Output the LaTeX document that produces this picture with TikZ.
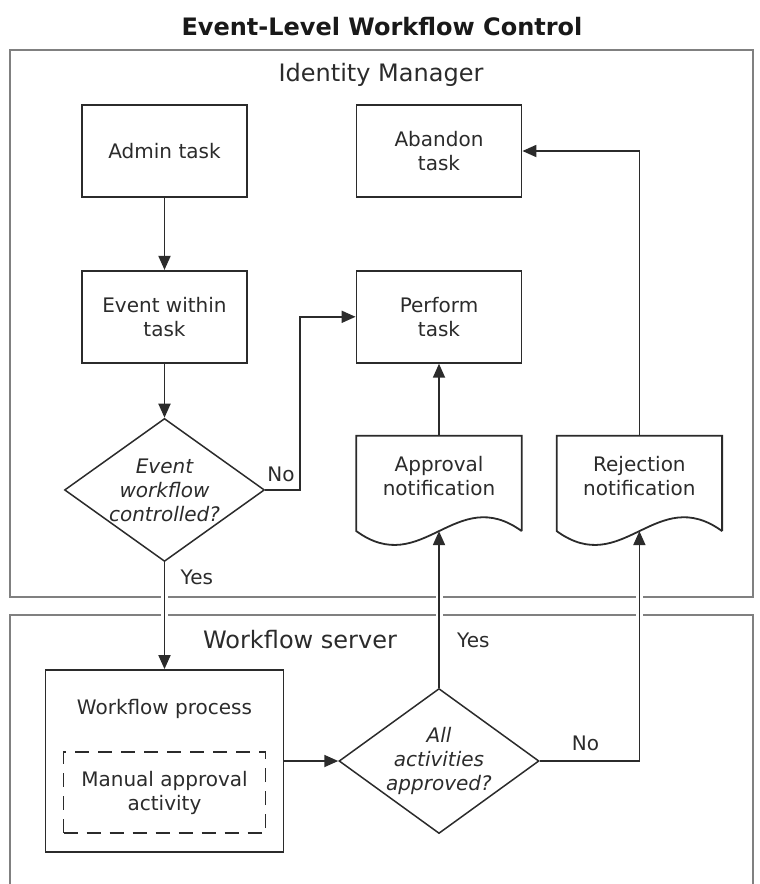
\documentclass[tikz,border=0pt]{standalone}
\usepackage{fontspec}
\setmainfont{DejaVu Sans}
\usepackage{xcolor}
\usetikzlibrary{shapes,arrows,arrows.meta,positioning}
\definecolor{ink}{HTML}{2B2B2B}
\definecolor{frame}{HTML}{808080}

\begin{document}
\begin{tikzpicture}[
    x=1pt, y=-1pt,
    font=\fontsize{20}{24}\selectfont,
    task/.style={rectangle, draw=ink, line width=1.8pt, text=ink, minimum width=165pt, minimum height=92pt, align=center},
    decision/.style={diamond, draw=ink, line width=1.5pt, text=ink, aspect=1.4, inner xsep=-9pt, inner ysep=0pt, align=center, minimum width=200pt, minimum height=143pt, font=\fontsize{20}{24}\selectfont\itshape},
    doc/.style={rectangle, minimum width=165pt, minimum height=95pt, text depth=15pt, align=center, text=ink},
    docline/.style={draw=ink, line width=1.8pt},
    lane/.style={draw=frame, line width=2.4pt},
    gap/.style={draw=white, line width=7pt},
    arrow/.style={-{Triangle[length=14pt,width=12pt]}, draw=ink, line width=1.8pt},
    tag/.style={text=ink, inner sep=2pt}
]
\useasboundingbox (0,0) rectangle (760,884);

% Title and lanes
\node[font=\fontsize{24}{28}\selectfont\bfseries, text=black!90] (title) at (382,27) {Event-Level Workflow Control};
\draw[lane] (10,50) rectangle (753,597);
\draw[lane] (10,884) -- (10,615) -- (753,615) -- (753,884);
\node[tag, font=\fontsize{24}{28}\selectfont] (idmlabel) at (381,75) {Identity Manager};
\node[tag, font=\fontsize{24}{28}\selectfont] (wslabel) at (300,640) {Workflow server};

% Identity Manager steps
\node[task] (admin) at (164.5,151) {Admin task};
\node[task, below=72pt of admin] (event) {Event within\\task};
\node[decision, below=54pt of event] (ctrl) {Event\\workflow\\controlled?};

\node[task] (abandon) at (439,151) {Abandon\\task};
\node[task, below=72pt of abandon] (perform) {Perform\\task};
\node[doc, below=72pt of perform] (approve) {Approval\\notification};
\node[doc, right=35pt of approve] (reject) {Rejection\\notification};

% Document outlines with a wavy bottom
\foreach \d in {approve,reject} {
    \draw[docline] (\d.south east) -- (\d.north east) -- (\d.north west) -- (\d.south west)
        .. controls +(66,48) and +(-66,-48) .. (\d.south east);
}

% Workflow server steps
\node[task, minimum width=238pt, minimum height=182pt] (wfp) at (164.5,761) {};
\node[tag, below=28pt of wfp.north] (wfptext) {Workflow process};
\node[task, dash pattern=on 14pt off 9pt, minimum width=202pt, minimum height=81pt] (manual) at (164.5,792.5) {Manual approval\\activity};
\node[decision, minimum height=145pt] (allok) at (439,761) {All\\activities\\approved?};

% Breaks in the lane borders where arrows pass
\foreach \g in {ctrl.south,approve.south,reject.south}
    \draw[gap] (\g |- 0,590) -- (\g |- 0,622);

% Arrows
\draw[arrow] (admin) -- (event);
\draw[arrow] (event) -- (ctrl);
\draw[arrow] (ctrl.east) -- ++(35,0) |- (perform.west);
\draw[arrow] (ctrl.south) -- (wfp.north);
\draw[arrow] (wfp) -- (allok);
\draw[arrow] (allok.north) -- (approve.south);
\draw[arrow] (allok.east) -| (reject.south);
\draw[arrow] (approve.north) -- (perform.south);
\draw[arrow] (reject.north) |- (abandon.east);

% Branch labels
\node[tag, above right=6pt and 0pt of ctrl.east] (no1) {No};
\node[tag, below right=6pt and 14pt of ctrl.south] (yes1) {Yes};
\node[tag, above right=38pt and 16pt of allok.north] (yes2) {Yes};
\node[tag, above right=8pt and 30pt of allok.east] (no2) {No};

\end{tikzpicture}
\end{document}
